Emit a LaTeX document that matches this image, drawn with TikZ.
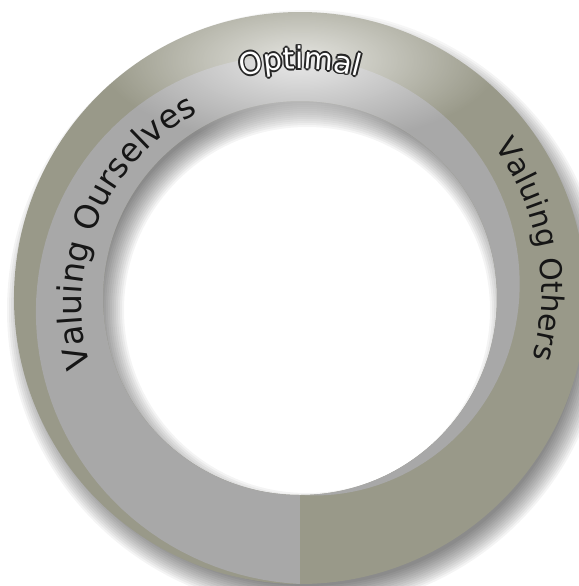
\documentclass[tikz,border=0pt]{standalone}
\usepackage{fontspec}
\setmainfont{DejaVu Sans}
\usetikzlibrary{decorations.text,fadings}

\definecolor{othersolive}{RGB}{153,153,137}
\definecolor{oursgray}{RGB}{168,168,168}
\definecolor{labelink}{RGB}{22,22,22}

\newcommand\ringlabelfont{\fontsize{16.5}{19}\selectfont}
\newcommand\otherslabelfont{\fontsize{15}{18}\selectfont}
\newcommand\optimalfont{\fontsize{15}{18}\selectfont}

\tikzfading[name=glowfade, inner color=transparent!0, outer color=transparent!100]

\tikzset{
  ringshadow/.style={fill=black, fill opacity=0.042, even odd rule},
  labeltext/.style={decorate, decoration={text along path, text align=center, text color=labelink}},
}

\begin{document}
\begin{tikzpicture}[x=0.5pt, y=0.5pt]
        \def\ro{286}
        \def\ri{197}
        \def\rs{0.2472}

        \useasboundingbox (-300,-288) rectangle (279,298);
        \clip (-300,-288) rectangle (279,298);
        \fill[white] (-300,-288) rectangle (279,298);

        \foreach \e in {-10,-8,...,14}
          \fill[ringshadow, shift={(7,-12)}] (0,0) circle[radius=\ro+\e] (0,0) circle[radius=\ri-\e];

        \fill[othersolive, even odd rule] (0,0) circle[radius=\ro] (0,0) circle[radius=\ri];
        \fill[oursgray] plot[domain=0:360, samples=145] ({270-\x}:{\ro-\rs*\x})
          arc[start angle=-90, end angle=270, radius=\ri] -- cycle;

        \fill[white, fill opacity=0.75, path fading=glowfade] (0,238) ellipse[x radius=200, y radius=84];

        \path[labeltext, decoration={text={|\ringlabelfont|Valuing Ourselves}}]
          plot[domain=33:193, samples=81] ({270-\x}:{(\ri+\ro-\rs*\x)/2-12});
        \path[labeltext, decoration={text={|\otherslabelfont|Valuing Others}}]
          plot[domain=199:319, samples=61] ({270-\x}:{(2*\ro-\rs*\x)/2-11});

        \foreach \a in {0,45,...,315}
          \path[labeltext, decoration={text={|\optimalfont|Optimal}, text color=black!85}, shift={(\a:1.7)}]
            (150:229) arc[start angle=150, end angle=30, radius=229];
        \path[labeltext, decoration={text={|\optimalfont|Optimal}, text color=white}]
          (150:229) arc[start angle=150, end angle=30, radius=229];
\end{tikzpicture}
\end{document}
